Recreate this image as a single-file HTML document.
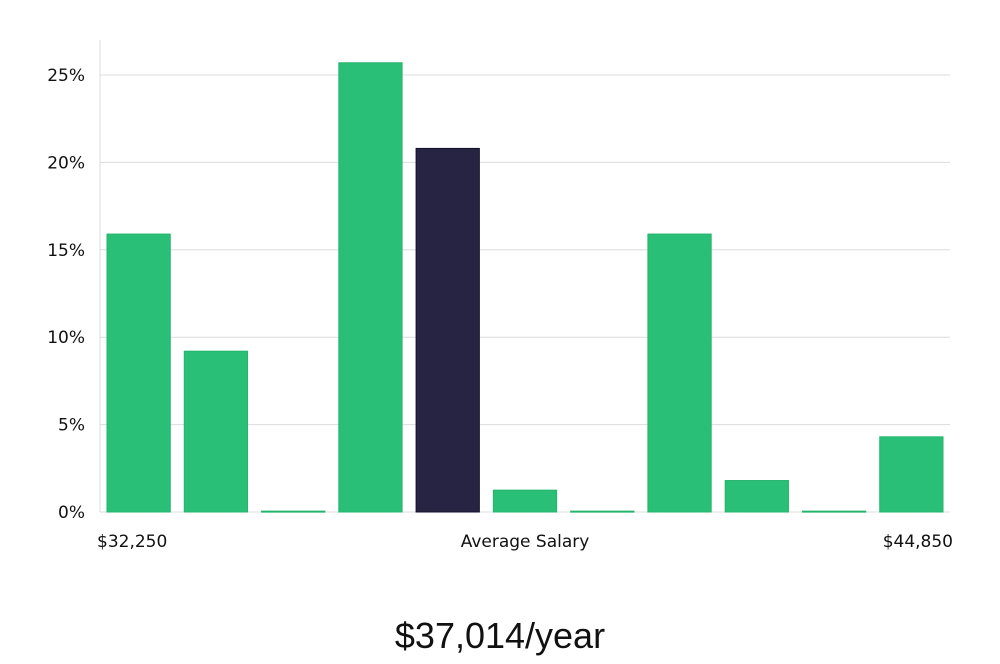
<!DOCTYPE html>
<html><head><meta charset="utf-8"><style>
body{margin:0;background:#fff;width:1000px;height:660px;overflow:hidden;font-family:"DejaVu Sans","Liberation Sans",sans-serif;}
</style></head><body>
<svg id="chart" width="1000" height="660">
<text x="500" y="648" text-anchor="middle" font-size="36" font-family="'Liberation Sans',sans-serif" font-weight="300" fill="#111">$37,014/year</text>
</svg>
<script>
const categories=["b1","b2","b3","b4","b5","b6","b7","b8","b9","b10","b11"];
const values=[15.9,9.2,0.05,25.7,20.8,1.25,0.05,15.9,1.8,0.05,4.3];
const highlightIndex=4;
const yTicks=[0,5,10,15,20,25];
const xLabels=["$32,250","Average Salary","$44,850"];
const ns="http://www.w3.org/2000/svg";
const svg=document.getElementById('chart');
const x0=100,x1=950,yBase=512,yTop=40;
const y=v=>yBase-v*(437/25);
const slot=(x1-x0)/categories.length;
const xb=i=>x0+i*slot;
function mk(t,a){const e=document.createElementNS(ns,t);for(const k in a)e.setAttribute(k,a[k]);svg.appendChild(e);return e;}
yTicks.forEach(t=>{
 const l=mk('line',{x1:x0,x2:x1,y1:y(t),y2:y(t),stroke:'#dcdcdc','stroke-width':1});
 
 
 const tx=mk('text',{x:85,y:y(t)+6,'text-anchor':'end','font-size':17,fill:'#111'});
 tx.textContent=t+'%';
 
 
});
const ax=mk('line',{x1:x0,x2:x0,y1:yTop,y2:yBase,stroke:'#dcdcdc','stroke-width':1});


values.forEach((v,i)=>{
 const hi=i===highlightIndex;
 const r=mk('rect',{x:xb(i)+7,y:y(v),width:slot-14,height:Math.max(1,yBase-y(v)),fill:hi?'#272443':'#2abf76',stroke:hi?'#14122a':'#24b56c','stroke-width':1});
 
 
});
const lp=[[97,'start'],[525,'middle'],[953,'end']];
xLabels.forEach((s,i)=>{
 const t=mk('text',{x:lp[i][0],y:547,'text-anchor':lp[i][1],'font-size':17,fill:'#111'});
 t.textContent=s;
 
 
});
</script>
</body></html>
